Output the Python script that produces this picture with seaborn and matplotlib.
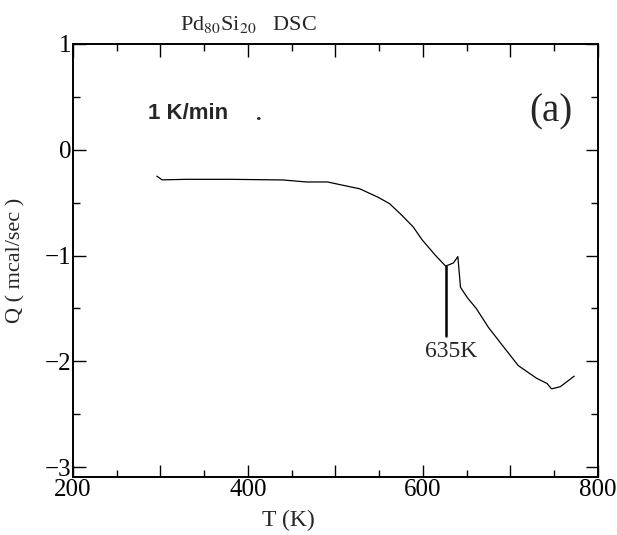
import numpy as np
import pandas as pd
import seaborn as sns
import matplotlib.pyplot as plt
from matplotlib.ticker import MultipleLocator, FuncFormatter

# DSC trace
temp_K = [296, 302, 330, 380, 440, 467, 491, 528, 549, 562, 576, 589, 599,
          614, 626, 635, 640, 643, 651, 661, 675, 691, 709, 730, 742, 747,
          757, 773]
heat_flow = [-0.25, -0.285, -0.28, -0.28, -0.286, -0.305, -0.305, -0.37,
             -0.45, -0.51, -0.62, -0.73, -0.85, -0.995, -1.10, -1.07, -1.01,
             -1.30, -1.40, -1.50, -1.68, -1.85, -2.04, -2.16, -2.21, -2.26,
             -2.24, -2.14]

peak_T = 627
peak_label = '635K'

sns.set_style('ticks')
plt.rcParams['font.family'] = ['Liberation Serif', 'DejaVu Serif']
plt.rcParams['mathtext.fontset'] = 'stix'

df = pd.DataFrame({'T': temp_K, 'Q': heat_flow})

fig = plt.figure(figsize=(6.17, 5.35), dpi=100)
ax = fig.add_axes([0.118, 0.108, 0.851, 0.810])

sns.lineplot(data=df, x='T', y='Q', color='black', linewidth=0.9, ax=ax,
             sort=False)

# marker for the onset
ax.plot([peak_T, peak_T], [-1.1, -1.76], color='black', linewidth=1.8)
ax.text(632, -1.91, peak_label, ha='center', va='center', fontsize=17)

ax.set_xlim(200, 800)
ax.set_ylim(-3.095, 1.0)
ax.xaxis.set_major_locator(MultipleLocator(100))
ax.xaxis.set_minor_locator(MultipleLocator(50))
ax.xaxis.set_major_formatter(FuncFormatter(lambda v, p: f'{v:.0f}' if v % 200 == 0 else ''))
ax.yaxis.set_major_locator(MultipleLocator(1))
ax.yaxis.set_minor_locator(MultipleLocator(0.5))
ax.yaxis.set_major_formatter(FuncFormatter(lambda v, p: f'{v:.0f}'.replace('-', '\u2212')))

ax.tick_params(which='both', direction='in', top=True, right=True,
               colors='black', labelsize=18, width=1.0)
ax.tick_params(which='major', length=9, pad=1)
ax.tick_params(which='minor', length=5)
for s in ax.spines.values():
    s.set_linewidth(1.4)
    s.set_color('black')

ax.set_xlabel('T (K)', fontsize=17, labelpad=0)
ax.set_ylabel('Q ( mcal/sec )', fontsize=16)
ax.xaxis.set_label_coords(0.41, -0.075)
ax.yaxis.set_label_coords(-0.09, 0.5)

ax.text(0.335, 1.045, r'Pd$_{80}$Si$_{20}$   DSC', transform=ax.transAxes,
        ha='center', va='center', fontsize=16)
ax.text(332, 0.34, '1 K/min', ha='center', va='center', fontsize=16,
        fontweight='bold', family=['Liberation Sans', 'DejaVu Sans'])
ax.text(413, 0.33, '.', ha='center', va='center', fontsize=16, fontweight='bold')
ax.text(746, 0.36, '(a)', ha='center', va='center', fontsize=28)

fig.savefig('out.png', dpi=100)
